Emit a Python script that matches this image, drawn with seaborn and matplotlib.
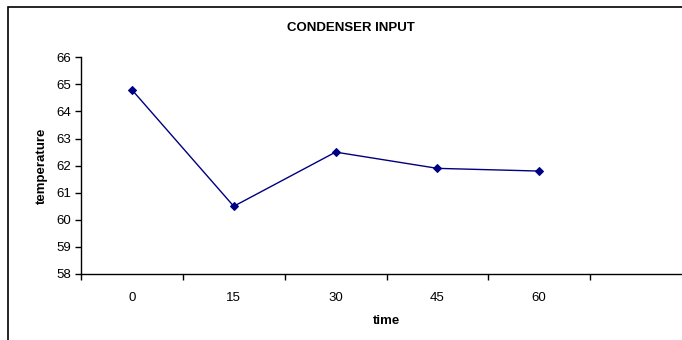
import matplotlib
matplotlib.use("Agg")
import matplotlib.pyplot as plt
import seaborn as sns
import numpy as np
import pandas as pd
from matplotlib.patches import Rectangle

times = ["0", "15", "30", "45", "60"]
temperature = [64.8, 60.5, 62.5, 61.9, 61.8]

sns.set_style("white")
plt.rcParams['font.family'] = ['Liberation Sans', 'DejaVu Sans']
plt.rcParams['text.color'] = 'black'
plt.rcParams['axes.labelcolor'] = 'black'
plt.rcParams['xtick.color'] = 'black'
plt.rcParams['ytick.color'] = 'black'

fig = plt.figure(figsize=(6.82, 3.40), dpi=100)
# outer chart frame (cropped on right/bottom)
fig.patches.append(Rectangle((8/682, -0.1), 1.2, 1 - 7/340 + 0.1, transform=fig.transFigure,
                             fill=False, edgecolor='black', linewidth=1.2))

ax = fig.add_axes([81/682, 1 - 274/340, (692 - 81)/682, (274 - 57.3)/340])
df = pd.DataFrame({"pos": np.arange(len(times)), "temperature": temperature})
sns.lineplot(data=df, x="pos", y="temperature", ax=ax, color="#000080", linewidth=1,
             marker="D", markersize=4.5, markeredgecolor="#000080", markerfacecolor="#000080")

ax.set_xlim(-0.5, 5.5)
ax.set_ylim(58, 66)
ax.set_yticks(np.arange(58, 67, 1))
ax.set_xticks(np.arange(len(times)))
ax.set_xticklabels(times)
ax.set_xticks(np.arange(-0.5, 6, 1), minor=True)
ax.tick_params(axis='x', which='both', bottom=True)
ax.tick_params(axis='x', which='major', length=0, pad=13, labelsize=9.5)
ax.tick_params(axis='x', which='minor', length=4, width=1, direction='out', color='black')
ax.tick_params(axis='y', which='major', left=True, length=4, width=1, direction='out',
               color='black', labelsize=9.5, pad=3)
for s in ['top', 'right']:
    ax.spines[s].set_visible(False)
for s in ['left', 'bottom']:
    ax.spines[s].set_color('black')
    ax.spines[s].set_linewidth(1)
ax.set_xlabel("time", fontsize=9.5, fontweight='bold', labelpad=8)
ax.set_ylabel("temperature", fontsize=9.5, fontweight='bold', labelpad=6)
fig.text(351/682, 1 - 28/340, "CONDENSER INPUT", ha='center', va='center',
         fontsize=9.5, fontweight='bold')

fig.savefig("out.png", dpi=100)
